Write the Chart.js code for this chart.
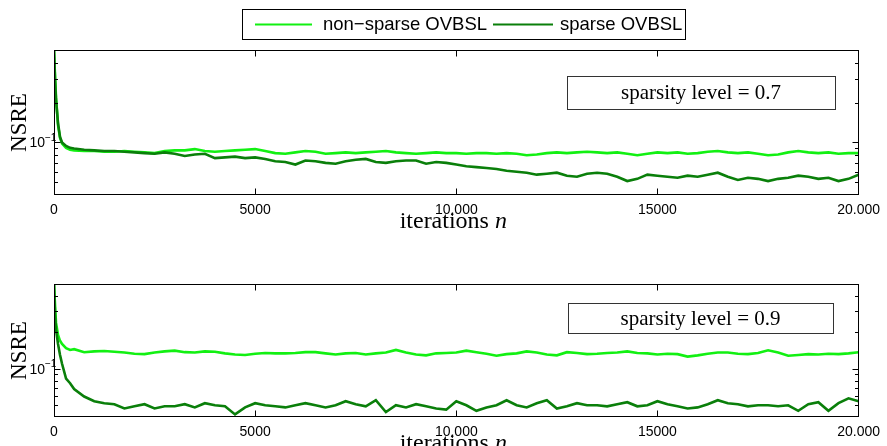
<!DOCTYPE html>
<html><head><meta charset="utf-8">
<script src="https://cdn.jsdelivr.net/npm/chart.js@4.4.0/dist/chart.umd.min.js"></script>
<style>
html,body{margin:0;padding:0;background:#fff;width:887px;height:446px;overflow:hidden;}
#c1{position:absolute;left:0;top:0;}
#c2{position:absolute;left:0;top:230px;}
</style></head><body>
<canvas id="c1" width="887" height="230"></canvas>
<canvas id="c2" width="887" height="216"></canvas>
<script>
const iterations = [0,25,50,100,150,200,300,400,500,
 750,1000,1250,1500,1750,2000,2250,2500,
 2750,3000,3250,3500,3750,4000,4250,4500,
 4750,5000,5250,5500,5750,6000,6250,6500,
 6750,7000,7250,7500,7750,8000,8250,8500,
 8750,9000,9250,9500,9750,10000,10250,10500,
 10750,11000,11250,11500,11750,12000,12250,12500,
 12750,13000,13250,13500,13750,14000,14250,14500,
 14750,15000,15250,15500,15750,16000,16250,16500,
 16750,17000,17250,17500,17750,18000,18250,18500,
 18750,19000,19250,19500,19750,20000];

const nonSparse07 = [0.50,0.32,0.22,0.135,0.108,0.098,0.091,0.088,0.087,
 0.086,0.086,0.085,0.085,0.086,0.085,0.084,0.083,
 0.086,0.087,0.087,0.089,0.086,0.085,0.086,0.087,
 0.088,0.089,0.086,0.083,0.082,0.084,0.086,0.085,
 0.082,0.083,0.084,0.083,0.084,0.085,0.086,0.084,
 0.083,0.082,0.083,0.084,0.083,0.083,0.082,0.083,
 0.083,0.082,0.083,0.082,0.080,0.081,0.083,0.084,
 0.083,0.084,0.085,0.084,0.083,0.084,0.082,0.080,
 0.082,0.084,0.083,0.084,0.082,0.083,0.085,0.086,
 0.084,0.083,0.084,0.082,0.080,0.081,0.084,0.086,
 0.084,0.083,0.084,0.082,0.083,0.083];

const sparse07 = [0.50,0.30,0.21,0.14,0.11,0.10,0.094,0.091,0.090,
 0.088,0.087,0.086,0.086,0.085,0.084,0.083,0.082,
 0.084,0.082,0.079,0.081,0.082,0.076,0.077,0.078,
 0.076,0.077,0.075,0.072,0.071,0.068,0.073,0.072,
 0.070,0.069,0.072,0.074,0.075,0.071,0.070,0.072,
 0.073,0.073,0.069,0.071,0.070,0.068,0.066,0.065,
 0.064,0.063,0.061,0.060,0.059,0.057,0.058,0.059,
 0.056,0.055,0.058,0.059,0.058,0.055,0.051,0.053,
 0.057,0.056,0.055,0.054,0.056,0.055,0.057,0.059,
 0.055,0.052,0.054,0.053,0.051,0.053,0.054,0.056,
 0.055,0.053,0.054,0.051,0.053,0.057];

const nonSparse09 = [0.50,0.34,0.24,0.19,0.17,0.16,0.148,0.143,0.145,
 0.137,0.139,0.140,0.138,0.136,0.133,0.132,0.136,
 0.139,0.141,0.137,0.136,0.139,0.138,0.134,0.131,
 0.130,0.133,0.135,0.134,0.134,0.135,0.137,0.137,
 0.134,0.131,0.134,0.135,0.131,0.134,0.136,0.143,
 0.136,0.131,0.129,0.134,0.135,0.136,0.141,0.137,
 0.133,0.128,0.132,0.134,0.139,0.136,0.131,0.129,
 0.137,0.135,0.132,0.133,0.135,0.136,0.139,0.135,
 0.134,0.131,0.133,0.132,0.126,0.129,0.133,0.136,
 0.136,0.133,0.132,0.135,0.142,0.136,0.128,0.130,
 0.132,0.131,0.133,0.132,0.134,0.137];

const sparse09 = [0.50,0.28,0.21,0.16,0.13,0.11,0.083,0.076,0.068,
 0.059,0.054,0.052,0.051,0.047,0.049,0.051,0.047,
 0.049,0.049,0.051,0.048,0.052,0.050,0.049,0.042,
 0.048,0.052,0.050,0.049,0.048,0.050,0.052,0.050,
 0.048,0.050,0.054,0.051,0.049,0.055,0.044,0.050,
 0.048,0.051,0.049,0.047,0.046,0.054,0.050,0.045,
 0.048,0.050,0.055,0.050,0.048,0.052,0.055,0.047,
 0.049,0.052,0.050,0.050,0.049,0.051,0.053,0.049,
 0.050,0.054,0.051,0.049,0.047,0.048,0.051,0.055,
 0.052,0.051,0.049,0.050,0.050,0.049,0.050,0.045,
 0.051,0.053,0.045,0.052,0.057,0.054];

const xTickValues = [0, 5000, 10000, 15000, 20000];
const xTickLabels = ['0', '5000', '10,000', '15000', '20.000'];
const yMajorTicks = [0.1];
const yMinorTicks = [0.05, 0.06, 0.07, 0.08, 0.09, 0.2, 0.3, 0.4];
const seriesNames = ['non\u2212sparse OVBSL', 'sparse OVBSL'];
const panelLabels = ['sparsity level = 0.7', 'sparsity level = 0.9'];
const yAxisTitle = 'NSRE';
const xAxisTitle = ['iterations ', 'n'];

const LIGHT = '#12f012';
const DARK = '#0a7f0a';
const SANS = '"Liberation Sans", Arial, Helvetica, sans-serif';
const SERIF = '"Liberation Serif", "Times New Roman", serif';

function panelPlugin(idx, box, showLegend) {
  return {
    id: 'panel' + idx,
    afterDraw(chart) {
      const ctx = chart.ctx;
      const a = chart.chartArea;
      const xs = chart.scales.x, ys = chart.scales.y;
      const L = Math.round(a.left) + 0.5, R = Math.round(a.right) - 0.5;
      const T = Math.round(a.top) + 0.5, B = Math.round(a.bottom) - 0.5;
      ctx.save();
      ctx.strokeStyle = '#000';
      ctx.lineWidth = 1;
      ctx.strokeRect(L, T, R - L, B - T);
      ctx.beginPath();
      xTickValues.forEach(v => {
        if (v === xs.min || v === xs.max) return;
        const px = Math.round(xs.getPixelForValue(v)) + 0.5;
        ctx.moveTo(px, B); ctx.lineTo(px, B - 6);
        ctx.moveTo(px, T); ctx.lineTo(px, T + 6);
      });
      yMajorTicks.forEach(v => {
        const py = Math.round(ys.getPixelForValue(v)) + 0.5;
        ctx.moveTo(L, py); ctx.lineTo(L + 6, py);
        ctx.moveTo(R, py); ctx.lineTo(R - 6, py);
      });
      yMinorTicks.forEach(v => {
        const py = Math.round(ys.getPixelForValue(v)) + 0.5;
        ctx.moveTo(L, py); ctx.lineTo(L + 3.5, py);
        ctx.moveTo(R, py); ctx.lineTo(R - 3.5, py);
      });
      ctx.stroke();

      // y tick label 10^-1
      ctx.fillStyle = '#000';
      const py = ys.getPixelForValue(0.1);
      ctx.font = '14px ' + SANS;
      ctx.textAlign = 'right';
      ctx.textBaseline = 'middle';
      ctx.fillText('10', 45, py + 1);
      ctx.font = '10px ' + SANS;
      ctx.textAlign = 'left';
      ctx.fillText('\u22121', 45, py - 4);

      // y axis title
      ctx.save();
      ctx.translate(20, (a.top + a.bottom) / 2);
      ctx.rotate(-Math.PI / 2);
      ctx.font = '23px ' + SERIF;
      ctx.textAlign = 'center';
      ctx.textBaseline = 'middle';
      ctx.fillText(yAxisTitle, 0, 0);
      ctx.restore();

      // x axis title
      ctx.font = '24px ' + SERIF;
      const w1 = ctx.measureText(xAxisTitle[0]).width;
      ctx.font = 'italic 24px ' + SERIF;
      const w2 = ctx.measureText(xAxisTitle[1]).width;
      const cx = (a.left + a.right) / 2 - 3;
      const x0 = cx - (w1 + w2) / 2;
      const by = a.bottom + 33;
      ctx.textAlign = 'left';
      ctx.textBaseline = 'alphabetic';
      ctx.font = '24px ' + SERIF;
      ctx.fillText(xAxisTitle[0], x0, by);
      ctx.font = 'italic 24px ' + SERIF;
      ctx.fillText(xAxisTitle[1], x0 + w1, by);

      // annotation box
      ctx.fillStyle = '#fff';
      ctx.fillRect(box.x, box.y, box.w, box.h);
      ctx.strokeStyle = '#333';
      ctx.lineWidth = 1;
      ctx.strokeRect(box.x + 0.5, box.y + 0.5, box.w, box.h);
      ctx.fillStyle = '#000';
      ctx.font = '21px ' + SERIF;
      ctx.textAlign = 'center';
      ctx.textBaseline = 'middle';
      ctx.fillText(panelLabels[idx], box.x + box.w / 2, box.y + box.h / 2 + 1);

      // legend
      if (showLegend) {
        ctx.strokeStyle = '#000';
        ctx.lineWidth = 1;
        ctx.strokeRect(242.5, 9.5, 443, 30);
        ctx.lineWidth = 2;
        ctx.strokeStyle = LIGHT;
        ctx.beginPath(); ctx.moveTo(255, 24.5); ctx.lineTo(312, 24.5); ctx.stroke();
        ctx.strokeStyle = DARK;
        ctx.beginPath(); ctx.moveTo(493, 24.5); ctx.lineTo(553, 24.5); ctx.stroke();
        ctx.fillStyle = '#000';
        ctx.font = '18.5px ' + SANS;
        ctx.textAlign = 'left';
        ctx.textBaseline = 'middle';
        ctx.fillText(seriesNames[0], 323, 25);
        ctx.fillText(seriesNames[1], 560, 25);
      }
      ctx.restore();
    }
  };
}

function makeChart(canvas, nsVals, spVals, idx, padTop, xHeight, box, showLegend) {
  return new Chart(canvas, {
    type: 'line',
    data: {
      datasets: [
        { label: seriesNames[0], data: iterations.map((x, i) => ({ x: x, y: nsVals[i] })),
          borderColor: LIGHT, backgroundColor: LIGHT, borderWidth: 2.6, pointRadius: 0, tension: 0, order: 1 },
        { label: seriesNames[1], data: iterations.map((x, i) => ({ x: x, y: spVals[i] })),
          borderColor: DARK, backgroundColor: DARK, borderWidth: 2.6, pointRadius: 0, tension: 0, order: 0 }
      ]
    },
    options: {
      responsive: false,
      animation: false,
      devicePixelRatio: 1,
      layout: { padding: { top: padTop, right: 25, left: 0, bottom: 0 } },
      plugins: { legend: { display: false }, tooltip: { enabled: false }, title: { display: false } },
      scales: {
        x: {
          type: 'linear', min: 0, max: 20000,
          grid: { display: false, drawTicks: false }, border: { display: false },
          afterBuildTicks: s => { s.ticks = xTickValues.map(v => ({ value: v })); },
          afterFit: s => { s.height = xHeight; },
          ticks: {
            autoSkip: false, maxRotation: 0, padding: 7, color: '#000',
            font: { family: SANS, size: 14 },
            callback: (v, i) => xTickLabels[i]
          }
        },
        y: {
          type: 'logarithmic', min: 0.04, max: 0.5,
          grid: { display: false, drawTicks: false }, border: { display: false },
          ticks: { display: false },
          afterFit: s => { s.width = 54; }
        }
      }
    },
    plugins: [panelPlugin(idx, box, showLegend)]
  });
}

makeChart(document.getElementById('c1'), nonSparse07, sparse07, 0, 50, 35,
  { x: 567, y: 76, w: 268, h: 33 }, true);
makeChart(document.getElementById('c2'), nonSparse09, sparse09, 1, 54, 29,
  { x: 568, y: 73, w: 265, h: 30 }, false);
</script>
</body></html>
